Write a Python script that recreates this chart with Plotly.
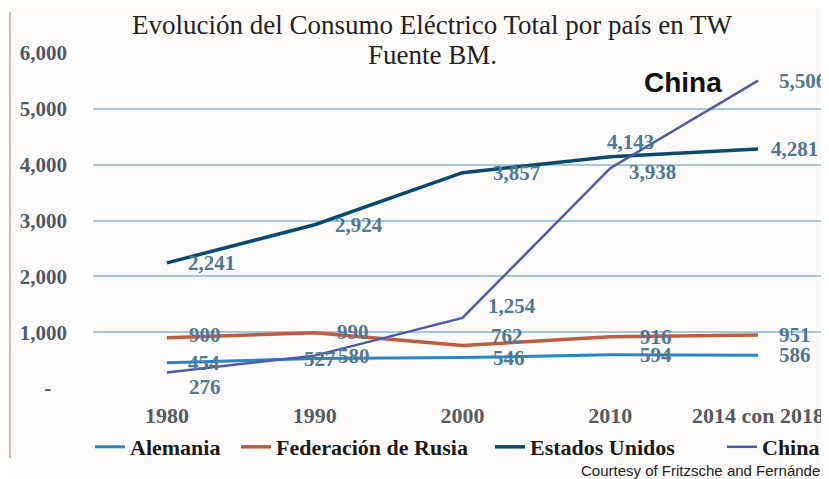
import plotly.graph_objects as go

# Consumo eléctrico total (TW) - Fuente BM
years = ["1980", "1990", "2000", "2010", "2014 con 2018"]
alemania = [454, 527, 546, 594, 586]
rusia = [900, 990, 762, 916, 951]
eeuu = [2241, 2924, 3857, 4143, 4281]
china = [276, 580, 1254, 3938, 5506]

series = [
    ("Alemania", alemania, "#2a86c6", 3),
    ("Federación de Rusia", rusia, "#bf5c45", 3.5),
    ("Estados Unidos", eeuu, "#0c4a6c", 3.5),
    ("China", china, "#4f5aab", 2.5),
]

# desplazamiento (px) de las etiquetas respecto a cada punto
label_shift = {
    "Alemania": [(37, 0), (5, 0), (47, 0), (46, 0), (37, 0)],
    "Federación de Rusia": [(38, 3), (38, 1), (45, 9), (46, 0), (37, 0)],
    "Estados Unidos": [(45, 0), (44, 0), (54, 0), (20, 15), (36, 0)],
    "China": [(38, -14), (39, 0), (50, 12), (42, -4), (44, 0)],
}

# inicio del texto de cada elemento de la leyenda (px de pantalla)
legend_text_x = [132, 278, 532, 764]

# la página tiene 8px de margen en el body: todo se coloca en coordenadas de pantalla - 8
OFF = 8
W, H = 829 - OFF, 479 - OFF
PLOT_L, PLOT_R, PLOT_T, PLOT_B = 93 - OFF, 829 - OFF, 53 - OFF, 388 - OFF
pw = PLOT_R - PLOT_L
ph = PLOT_B - PLOT_T


def px(sx):
    return (sx - OFF - PLOT_L) / pw


def py(sy):
    return (PLOT_B - (sy - OFF)) / ph


legend_font = dict(family="Liberation Serif", size=22, color="#1a1a1a", weight="bold")

fig = go.Figure()
legends = {}
for k, (name, vals, color, width) in enumerate(series):
    lname = "legend" if k == 0 else f"legend{k + 1}"
    fig.add_trace(go.Scatter(x=years, y=vals, name=name, mode="lines", legend=lname,
                             showlegend=True, line=dict(color=color, width=width)))
    legends[lname] = dict(x=px(legend_text_x[k] - 42), xanchor="left",
                          y=py(447), yanchor="middle", bgcolor="rgba(0,0,0,0)",
                          font=legend_font)

annotations = []
for name, vals, color, width in series:
    for i, v in enumerate(vals):
        dx, dy = label_shift[name][i]
        annotations.append(dict(x=i, y=v, text=f"{v:,}", showarrow=False,
                                xanchor="center", yanchor="middle",
                                xshift=dx, yshift=dy,
                                font=dict(family="Liberation Serif", size=21,
                                          color="#4f7892", weight="bold")))

annotations.append(dict(x=px(432), y=py(55), xref="paper", yref="paper",
                        xanchor="center", yanchor="middle",
                        text="Fuente BM.", showarrow=False,
                        font=dict(family="Liberation Serif", size=27, color="#222222")))
annotations.append(dict(x=px(683), y=py(82), xref="paper", yref="paper",
                        xanchor="center", yanchor="middle",
                        text="<b>China</b>", showarrow=False,
                        font=dict(family="Liberation Sans", size=28, color="#111111")))
annotations.append(dict(x=px(579), y=py(470), xref="paper", yref="paper",
                        xanchor="left", yanchor="middle",
                        text="Courtesy of Fritzsche and Fernández", showarrow=False,
                        font=dict(family="Liberation Sans", size=15, color="#222222")))

fig.update_layout(
    width=W, height=H, showlegend=True,
    margin=dict(l=PLOT_L, r=W - PLOT_R, t=PLOT_T, b=H - PLOT_B),
    paper_bgcolor="#fdfbfa", plot_bgcolor="#fdfbfa",
    title=dict(text="Evolución del Consumo Eléctrico Total por país en TW",
               x=px(432), xref="paper", xanchor="center",
               y=1 - (25 - OFF) / H, yref="container", yanchor="middle",
               font=dict(family="Liberation Serif", size=27, color="#222222")),
    xaxis=dict(type="category", range=[-0.5, 4.48], showgrid=False, showline=False,
               ticks="", ticklabelstandoff=12,
               tickfont=dict(family="Liberation Serif", size=22, color="#555b60", weight="bold")),
    yaxis=dict(range=[0, 6000], tickvals=[0, 1000, 2000, 3000, 4000, 5000, 6000],
               ticktext=["-\u00a0\u00a0\u00a0", "1,000", "2,000", "3,000", "4,000", "5,000", "6,000"],
               showgrid=True, gridcolor="#a9c6d6", gridwidth=2, zeroline=False,
               ticks="", ticklabelstandoff=25,
               tickfont=dict(family="Liberation Serif", size=21, color="#4f5a64", weight="bold")),
    annotations=annotations,
    shapes=[dict(type="line", xref="paper", yref="paper",
                 x0=px(10), x1=px(10), y0=py(12), y1=py(458),
                 line=dict(color="#c2a898", width=1.5))],
    **legends,
)

fig.write_html("out.html")
